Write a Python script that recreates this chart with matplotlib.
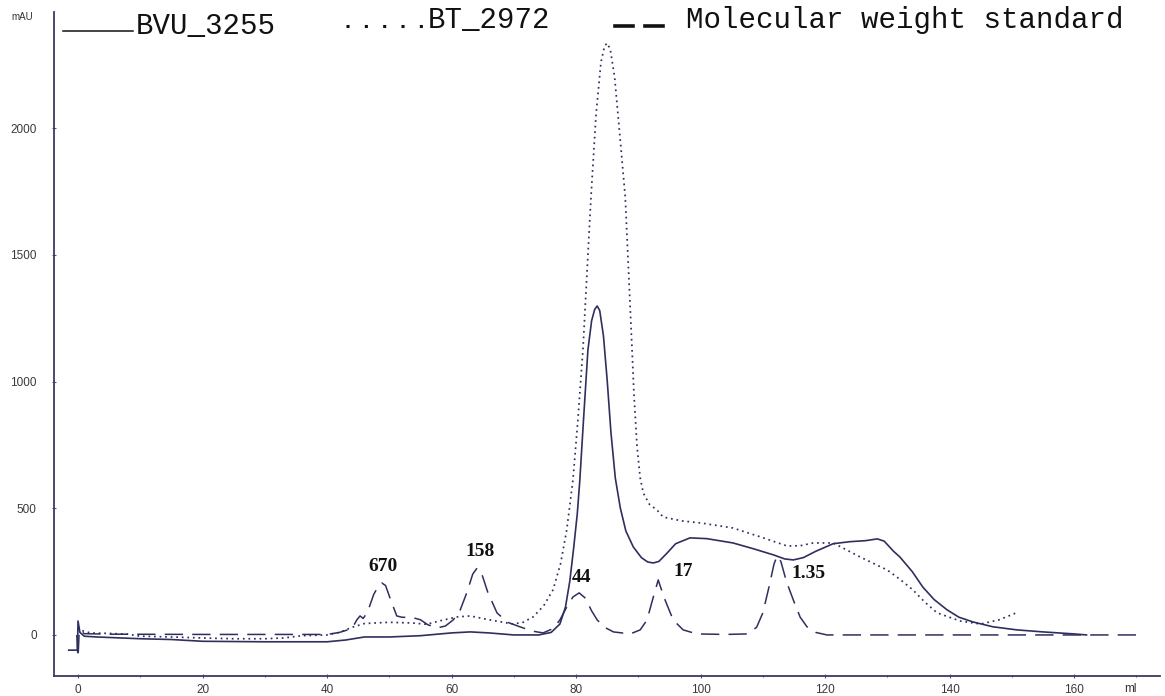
import matplotlib
matplotlib.use("Agg")
import matplotlib.pyplot as plt
from matplotlib.lines import Line2D

# ---------------- data ----------------
bvu_ml = [-1.5, -0.1, 0.0, 0.3, 1, 3, 5, 10, 15, 20, 30, 40, 43, 46, 50, 55, 60, 63, 66, 70,
          74, 76, 77.4, 78.3, 79.0, 79.6, 80.2, 80.6, 81.2, 81.9, 82.5, 83.0, 83.4, 83.8, 84.4,
          85.0, 85.6, 86.3, 87.1, 88.0, 89.2, 90.5, 91.5, 92.4, 93.3, 94.5, 96, 98.3, 101, 105.2,
          108.5, 111.7, 113.5, 114.9, 116.5, 118.5, 121.3, 124, 126.5, 128.4, 129.5, 131, 132,
          134, 135.7, 137.5, 139.6, 141.5, 143.8, 147, 150.8, 155, 160, 162]
bvu_mau = [-60, -60, 55, 10, -5, -8, -10, -15, -18, -25, -27, -27, -20, -8, -8, -3, 8, 12, 8, 0,
           0, 10, 43, 110, 213, 340, 479, 609, 850, 1123, 1240, 1285, 1298, 1280, 1180,
           1005, 800, 620, 502, 410, 347, 305, 288, 284, 290, 320, 360, 383, 380, 363,
           340, 316, 300, 296, 305, 330, 360, 368, 372, 379, 370, 330, 308,
           250, 189, 140, 99, 70, 51, 32, 20, 12, 4, 0]

bt_ml = [0, 0.5, 2, 5, 8, 10, 15, 20, 25, 30, 33, 36, 40, 42, 44, 46, 50, 53.8, 56, 58, 60.9, 63,
         66, 69.9, 71.5, 73.1, 74.8, 76.3, 77.5, 78.5, 79.5, 80.3, 81.1, 81.8, 82.4, 83.2, 84.0,
         84.6, 85.0, 85.5, 86.2, 87.0, 87.9, 88.5, 89.0, 89.3, 89.8, 90.3, 90.8, 91.8, 93, 94,
         97, 100, 105.2, 109.6, 113.9, 116, 118.1, 121.3, 123.5, 125.6, 130, 132, 134.1, 136,
         138, 141.7, 145, 148, 151]
bt_mau = [30, 18, 8, 6, 3, -5, -8, -12, -15, -15, -12, -3, 0, 10, 30, 45, 50, 47, 42, 55, 71, 75,
          60, 43, 50, 71, 115, 178, 280, 414, 611, 850, 1123, 1450, 1728, 2050, 2260,
          2325, 2335, 2310, 2200, 1980, 1728, 1400, 1123, 950, 742, 620, 560, 515, 493, 465,
          450, 442, 422, 387, 351, 352, 363, 363, 335, 308, 256, 220, 178, 130,
          87, 55, 43, 60, 90]

mw_ml = [-0.2, 0.0, 0.2, 1, 5, 20, 40, 42, 44, 44.8, 45.3, 45.8, 46.5, 47.5, 48.3, 48.8, 49.4,
         50.2, 51.2, 52, 53.8, 55, 56.2, 57.7, 59, 60.3, 61.4, 62.5, 63.4, 64.1, 64.8, 65.8,
         67.3, 69, 71, 73, 74.7, 76.3, 77.4, 78.5, 79.5, 80.5, 81.5, 82.5, 83.4, 84.6, 86,
         88.7, 90.3, 91.4, 92.3, 93.2, 94.1, 95.6, 97.2, 99.4, 104, 107.5, 109, 110, 111,
         111.8, 112.3, 112.9, 113.8, 114.9, 116, 117.1, 118.5, 120.3, 140, 170]
mw_mau = [0, -90, 20, 5, 3, 2, 2, 10, 25, 60, 75, 65, 90, 160, 195, 205, 195,
          140, 75, 70, 68, 60, 40, 28, 35, 60, 99, 170, 240, 264, 245, 170,
          87, 50, 32, 15, 8, 25, 59, 110, 150, 166, 145, 95, 59, 30, 12,
          4, 20, 59, 140, 217, 150, 59, 20, 4, 2, 4, 30, 87, 190,
          280, 312, 290, 210, 138, 70, 32, 10, 0, 0, 0]

peak_labels = ["670", "158", "44", "17", "1.35"]
peak_label_ml = [49.0, 64.6, 80.8, 97.2, 117.3]
peak_label_mau = [272, 331, 225, 249, 241]

legend_labels = ["BVU_3255", "BT_2972", "Molecular weight standard"]

x_ticks = [0, 20, 40, 60, 80, 100, 120, 140, 160]
y_ticks = [0, 500, 1000, 1500, 2000]

# ---------------- figure ----------------
W, H = 1165, 696
fig = plt.figure(figsize=(W / 100, H / 100), dpi=100)
ax = fig.add_axes([54 / W, 1 - 676 / H, (1160 - 54) / W, (676 - 12) / H])

navy = "#2f2f5f"
ax.plot(bvu_ml, bvu_mau, color=navy, lw=1.2, solid_joinstyle="round")
ax.plot(bt_ml, bt_mau, color=navy, lw=1.25, linestyle=(0, (1.0, 2.2)))
ax.plot(mw_ml, mw_mau, color=navy, lw=1.1, linestyle=(0, (12, 6)))

for lab, xm, ym in zip(peak_labels, peak_label_ml, peak_label_mau):
    ax.text(xm, ym, lab, ha="center", va="center", fontsize=14, fontweight="bold",
            family="Liberation Serif", color="#111111")

ax.set_xlim(-3.86, 173.8)
ax.set_ylim(-162, 2458)
ax.set_xticks(x_ticks)
ax.set_xticks(range(10, 171, 20), minor=True)
ax.set_yticks(y_ticks)
for s in ["top", "right"]:
    ax.spines[s].set_visible(False)
for s in ["left", "bottom"]:
    ax.spines[s].set_color("#3a3a66")
    ax.spines[s].set_linewidth(1.3)
ax.tick_params(axis="both", which="both", direction="inout", length=3, width=0.8,
               color="#555577", labelsize=8.5, labelcolor="#3a3a3a")
ax.tick_params(axis="x", pad=4)
ax.tick_params(axis="y", pad=11)
ax.tick_params(axis="x", which="minor", length=2)
for lbl in ax.get_xticklabels() + ax.get_yticklabels():
    lbl.set_family("Liberation Sans")

fig.text(22 / W, 1 - 17 / H, "mAU", fontsize=7, ha="center", va="center",
         family="Liberation Sans", color="#333333")
fig.text(1130 / W, 1 - 689 / H, "ml", fontsize=8.5, ha="center", va="center",
         family="Liberation Sans", color="#333333")

# ---------------- legend (top) ----------------
def fx(px):
    return px / W

def fy(py):
    return 1 - py / H

fig.add_artist(Line2D([fx(63), fx(133)], [fy(31), fy(31)], color="#111111", lw=1.1))
fig.add_artist(Line2D([fx(346), fx(424)], [fy(26), fy(26)], color="#111111", lw=2.2,
                      linestyle=(0, (1, 5.0))))
fig.add_artist(Line2D([fx(615), fx(633)], [fy(26), fy(26)], color="#111111", lw=2.6))
fig.add_artist(Line2D([fx(645), fx(663)], [fy(26), fy(26)], color="#111111", lw=2.6))

leg_font = dict(fontsize=21, family="Liberation Mono", color="#111111", va="baseline",
                ha="left")
fig.text(fx(136), fy(34), legend_labels[0], **leg_font)
fig.text(fx(428), fy(28), legend_labels[1], **leg_font)
fig.text(fx(686), fy(28), legend_labels[2], **leg_font)

fig.savefig("out.png", dpi=100, facecolor="white")
